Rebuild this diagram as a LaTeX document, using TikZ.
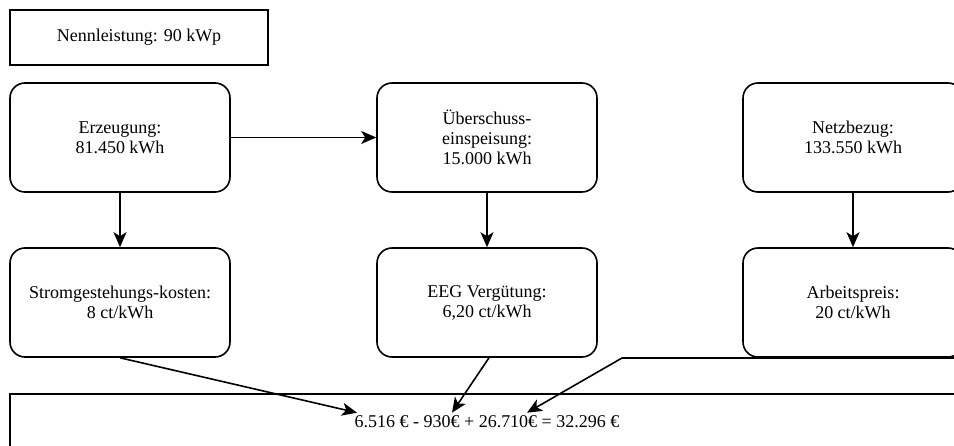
\documentclass[tikz,border=0pt]{standalone}
\usepackage{fontspec}
\setmainfont{Liberation Serif}
\usetikzlibrary{arrows.meta}
\tikzset{txt/.style={font=\fontsize{18}{20}\selectfont}}
\tikzset{infobox/.style={draw,line width=1.6pt,txt,align=center}}
\tikzset{box/.style={infobox,rounded corners=15pt,minimum width=220pt,minimum height=109pt}}
\tikzset{flow/.style={line width=1.6pt,-{Stealth[length=15pt,width=13pt,inset=4pt]}}}

\begin{document}
\begin{tikzpicture}[x=1pt,y=-1pt]
    \clip (0,0) rectangle (954,446);

    % Header
    \node[infobox,minimum width=258pt,minimum height=55pt] (nenn) at (139,37.5) {Nennleistung: 90 kWp};

    % Upper row
    \node[box] (erz) at (120,137.5) {Erzeugung:\\81.450 kWh};
    \node[box] (ueber) at (487,137.5) {Überschuss-\\einspeisung:\\15.000 kWh};
    \node[box] (netz) at (853,137.5) {Netzbezug:\\133.550 kWh};

    % Lower row
    \node[box] (strom) at (120,302.5) {Stromgestehungs-kosten:\\8 ct/kWh};
    \node[box] (eeg) at (487,302.5) {EEG Vergütung:\\6,20 ct/kWh};
    \node[box] (preis) at (853,302.5) {Arbeitspreis:\\20 ct/kWh};

    % Result
    \draw[line width=1.6pt] (975,394) -- (10,394) -- (10,460);
    \node[txt,inner sep=0pt] (summe) at (487,422) {6.516 € - 930€ + 26.710€ = 32.296 €};
    \coordinate (t1) at ([xshift=-130pt,yshift=3pt]summe.north);
    \coordinate (t2) at ([xshift=-35pt,yshift=3pt]summe.north);
    \coordinate (t3) at ([xshift=40pt,yshift=3pt]summe.north);
    \coordinate (zufuhr) at (970,358);
    \coordinate (knick) at (622,358);

    % Arrows
    \draw[flow] (erz) -- (strom);
    \draw[flow] (erz) -- (ueber);
    \draw[flow] (ueber) -- (eeg);
    \draw[flow] (netz) -- (preis);
    \draw[flow] (strom.south) -- (t1);
    \draw[flow] ([xshift=2pt]eeg.south) -- (t2);
    \draw[flow] (zufuhr) -- (knick) -- (t3);
\end{tikzpicture}
\end{document}
